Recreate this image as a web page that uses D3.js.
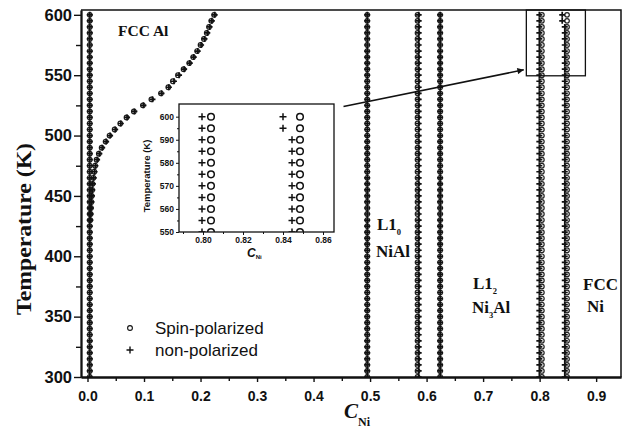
<!DOCTYPE html>
<html>
<head>
<meta charset="utf-8">
<script src="https://cdn.jsdelivr.net/npm/d3@7/dist/d3.min.js"></script>
<style>
  body { margin: 0; background: #fff; }
  svg { display: block; }
  .tick text { font-family: "Liberation Sans", Arial, sans-serif; font-weight: bold; }
</style>
</head>
<body>
<svg id="chart" width="623" height="429"></svg>
<script>
// temperatures sampled by the simulation (K)
const temps = [300, 305, 310, 315, 320, 325, 330, 335, 340, 345, 350, 355, 360, 365, 370, 375,
  380, 385, 390, 395, 400, 405, 410, 415, 420, 425, 430, 435, 440, 445, 450, 455, 460, 465,
  470, 475, 480, 485, 490, 495, 500, 505, 510, 515, 520, 525, 530, 535, 540, 545, 550, 555,
  560, 565, 570, 575, 580, 585, 590, 595, 600];

// phase boundaries that stay put with temperature (C_Ni)
const spinColumns = [0.004, 0.495, 0.584, 0.624, 0.804, 0.8485];
const nonColumns = [0.004, 0.495, 0.586, 0.624, 0.7995, 0.8445];
// the two top points of the Ni-rich non-polarized boundary move left
const nonShiftTop = [[595, 0.840], [600, 0.840]];

// FCC Al solvus branch
const alTemps = [430, 435, 440, 445, 450, 455, 460, 465, 470, 475, 480, 485, 490, 495, 500,
  505, 510, 515, 520, 525, 530, 535, 540, 545, 550, 555, 560, 565, 570, 575, 580, 585, 590, 595, 600];
const alSpinC = [0.005, 0.0055, 0.006, 0.0068, 0.0075, 0.0082, 0.009, 0.0105, 0.012, 0.0135,
  0.016, 0.020, 0.025, 0.032, 0.039, 0.048, 0.058, 0.069, 0.082, 0.098, 0.113, 0.130, 0.143,
  0.151, 0.160, 0.170, 0.180, 0.187, 0.194, 0.200, 0.206, 0.211, 0.215, 0.219, 0.224];
const alNonC = [0.005, 0.0055, 0.006, 0.007, 0.0078, 0.0085, 0.0095, 0.011, 0.0125, 0.014,
  0.017, 0.021, 0.026, 0.033, 0.040, 0.049, 0.059, 0.070, 0.083, 0.099, 0.115, 0.131, 0.144,
  0.153, 0.162, 0.171, 0.181, 0.188, 0.195, 0.201, 0.207, 0.212, 0.216, 0.220, 0.225];

const xTicks = [0, 0.1, 0.2, 0.3, 0.4, 0.5, 0.6, 0.7, 0.8, 0.9];
const xMinor = [0.05, 0.15, 0.25, 0.35, 0.45, 0.55, 0.65, 0.75, 0.85];
const yTicks = [300, 350, 400, 450, 500, 550, 600];
const yMinor = [325, 375, 425, 475, 525, 575];

const insetXTicks = [0.80, 0.82, 0.84, 0.86];
const insetXMinor = [0.79, 0.81, 0.83, 0.85];
const insetYTicks = [550, 560, 570, 580, 590, 600];
const insetYMinor = [555, 565, 575, 585, 595];

// zoom box and arrow, in data units
const zoomBox = [0.7765, 0.881, 549.5, 604];
const arrowFrom = [0.453, 524];
const arrowTo = [0.772, 554.5];

const svg = d3.select('#chart');
const ink = '#111';
const serif = '"Liberation Serif", "Times New Roman", serif';
const sans = '"Liberation Sans", Arial, sans-serif';

const x = d3.scaleLinear().domain([-0.0115, 0.944]).range([81, 621]);
const y = d3.scaleLinear().domain([300, 604]).range([377, 10]);

// build point lists
function columnPoints(cols, shifts) {
  const pts = [];
  cols.forEach((c, i) => {
    temps.forEach(t => {
      let cc = c;
      if (shifts && i === cols.length - 1) {
        const s = shifts.find(d => d[0] === t);
        if (s) cc = s[1];
      }
      pts.push({ c: cc, t: t });
    });
  });
  return pts;
}
const spinPts = columnPoints(spinColumns, null)
  .concat(alTemps.map((t, i) => ({ c: alSpinC[i], t: t })));
const nonPts = columnPoints(nonColumns, nonShiftTop)
  .concat(alTemps.map((t, i) => ({ c: alNonC[i], t: t })));

function plus(s) { return `M${-s},0H${s}M0,${-s}V${s}`; }

const defs = svg.append('defs');
defs.append('clipPath').attr('id', 'mainClip')
  .append('rect').attr('x', 81).attr('y', 10).attr('width', 540).attr('height', 367);

const main = svg.append('g').attr('clip-path', 'url(#mainClip)');
main.append('g').selectAll('circle').data(spinPts).join('circle')
  .attr('cx', d => x(d.c)).attr('cy', d => y(d.t)).attr('r', 2.3)
  .attr('fill', 'none').attr('stroke', '#222').attr('stroke-width', 1.2);
main.append('g').selectAll('path').data(nonPts).join('path')
  .attr('transform', d => `translate(${x(d.c)},${y(d.t)})`)
  .attr('d', plus(3)).attr('stroke', ink).attr('stroke-width', 1.7);

// frame
svg.append('path')
  .attr('d', `M${x.range()[0]},${y.range()[1]}H${x.range()[1]}V${y.range()[0]}`)
  .attr('fill', 'none').attr('stroke', ink).attr('stroke-width', 1.5);

// axes
function styleAxis(g) {
  g.select('.domain').attr('stroke', ink).attr('stroke-width', 1.8);
  g.selectAll('.tick line').attr('stroke', ink).attr('stroke-width', 1.4);
}
svg.append('g').attr('transform', `translate(0,${y.range()[0]})`)
  .call(d3.axisBottom(x).tickValues(xMinor).tickSize(4).tickFormat('').tickSizeOuter(0))
  .call(styleAxis);
svg.append('g').attr('transform', `translate(0,${y.range()[0]})`)
  .call(d3.axisBottom(x).tickValues(xTicks).tickSize(5).tickPadding(9).tickFormat(d3.format('.1f')).tickSizeOuter(0))
  .call(styleAxis)
  .call(g => g.selectAll('.tick text').attr('font-size', 14).attr('fill', ink));
svg.append('g').attr('transform', `translate(${x.range()[0]},0)`)
  .call(d3.axisLeft(y).tickValues(yMinor).tickSize(5).tickFormat('').tickSizeOuter(0))
  .call(styleAxis);
svg.append('g').attr('transform', `translate(${x.range()[0]},0)`)
  .call(d3.axisLeft(y).tickValues(yTicks).tickSize(7).tickPadding(2).tickSizeOuter(0))
  .call(styleAxis)
  .call(g => g.selectAll('.tick text').attr('font-size', 16.5).attr('fill', ink));

// axis titles
svg.append('text')
  .attr('transform', 'translate(31,229) rotate(-90)')
  .attr('text-anchor', 'middle')
  .attr('font-family', serif)
  .attr('font-weight', 'bold').attr('font-size', 21)
  .attr('textLength', 172).attr('lengthAdjust', 'spacingAndGlyphs')
  .attr('fill', ink).text('Temperature (K)');
const xt = svg.append('text').attr('x', 344).attr('y', 418)
  .attr('font-family', serif)
  .attr('font-weight', 'bold').attr('fill', ink);
xt.append('tspan').attr('font-style', 'italic').attr('font-size', 21).text('C');
xt.append('tspan').attr('font-size', 12).attr('dy', 8).text('Ni');

// phase labels: strings are normal text, {s: ...} are subscripts
function label(px, py, parts, size) {
  const t = svg.append('text').attr('x', px).attr('y', py)
    .attr('font-family', serif).attr('font-weight', 'bold')
    .attr('font-size', size).attr('fill', ink);
  let lowered = false;
  parts.forEach(p => {
    if (typeof p === 'object') {
      t.append('tspan').attr('font-size', size * 0.5).attr('dy', 5).text(p.s);
      lowered = true;
    } else {
      const ts = t.append('tspan').text(p);
      if (lowered) { ts.attr('dy', -5); lowered = false; }
    }
  });
}
label(118, 36, ['FCC Al'], 15.5);
label(377, 230, ['L1', { s: '0' }], 17);
label(376, 257, ['NiAl'], 17);
label(473, 289, ['L1', { s: '2' }], 17);
label(472, 313, ['Ni', { s: '3' }, 'Al'], 17);
label(583, 290, ['FCC'], 17);
label(587, 312, ['Ni'], 17);

// legend
svg.append('circle').attr('cx', 130).attr('cy', 328).attr('r', 2.4)
  .attr('fill', 'none').attr('stroke', ink).attr('stroke-width', 1.1);
svg.append('path').attr('transform', 'translate(130,350)').attr('d', plus(3.5))
  .attr('stroke', ink).attr('stroke-width', 1.4);
svg.append('text').attr('x', 155).attr('y', 334).attr('font-family', sans)
  .attr('font-size', 17).attr('fill', ink).text('Spin-polarized');
svg.append('text').attr('x', 155).attr('y', 356).attr('font-family', sans)
  .attr('font-size', 17).attr('fill', ink).text('non-polarized');

// zoom box + arrow
svg.append('rect')
  .attr('x', x(zoomBox[0])).attr('y', y(zoomBox[3]))
  .attr('width', x(zoomBox[1]) - x(zoomBox[0])).attr('height', y(zoomBox[2]) - y(zoomBox[3]))
  .attr('fill', 'none').attr('stroke', ink).attr('stroke-width', 1.3);
defs.append('marker').attr('id', 'head')
  .attr('viewBox', '0 0 10 10').attr('refX', 10).attr('refY', 5)
  .attr('markerWidth', 5).attr('markerHeight', 4).attr('orient', 'auto')
  .append('path').attr('d', 'M0,0L10,5L0,10Z').attr('fill', ink);
svg.append('line')
  .attr('x1', x(arrowFrom[0])).attr('y1', y(arrowFrom[1]))
  .attr('x2', x(arrowTo[0])).attr('y2', y(arrowTo[1]))
  .attr('stroke', ink).attr('stroke-width', 1.6).attr('marker-end', 'url(#head)');

// inset
const ix = d3.scaleLinear().domain([0.788, 0.8655]).range([179, 334]);
const iy = d3.scaleLinear().domain([550, 605.5]).range([232, 104]);
svg.append('rect').attr('x', 179).attr('y', 104).attr('width', 155).attr('height', 128)
  .attr('fill', '#fff');
defs.append('clipPath').attr('id', 'insetClip')
  .append('rect').attr('x', 179).attr('y', 104).attr('width', 155).attr('height', 128);
const inset = svg.append('g').attr('clip-path', 'url(#insetClip)');
const inRange = d => d.t >= 545 && d.c > 0.78;
inset.append('g').selectAll('path').data(nonPts.filter(inRange)).join('path')
  .attr('transform', d => `translate(${ix(d.c)},${iy(d.t)})`)
  .attr('d', plus(3.5)).attr('stroke', ink).attr('stroke-width', 1.5);
inset.append('g').selectAll('circle').data(spinPts.filter(inRange)).join('circle')
  .attr('cx', d => ix(d.c)).attr('cy', d => iy(d.t)).attr('r', 3.3)
  .attr('fill', 'none').attr('stroke', ink).attr('stroke-width', 1.5);
svg.append('rect').attr('x', 179).attr('y', 104).attr('width', 155).attr('height', 128)
  .attr('fill', 'none').attr('stroke', ink).attr('stroke-width', 1.3);

function styleInset(g) {
  g.select('.domain').remove();
  g.selectAll('.tick line').attr('stroke', ink).attr('stroke-width', 1);
}
svg.append('g').attr('transform', 'translate(0,232)')
  .call(d3.axisBottom(ix).tickValues(insetXMinor).tickSize(2).tickFormat(''))
  .call(styleInset);
svg.append('g').attr('transform', 'translate(0,232)')
  .call(d3.axisBottom(ix).tickValues(insetXTicks).tickSize(3).tickPadding(2).tickFormat(d3.format('.2f')))
  .call(styleInset)
  .call(g => g.selectAll('.tick text').attr('font-size', 8.5).attr('fill', ink));
svg.append('g').attr('transform', 'translate(179,0)')
  .call(d3.axisLeft(iy).tickValues(insetYMinor).tickSize(2).tickFormat(''))
  .call(styleInset);
svg.append('g').attr('transform', 'translate(179,0)')
  .call(d3.axisLeft(iy).tickValues(insetYTicks).tickSize(3).tickPadding(2))
  .call(styleInset)
  .call(g => g.selectAll('.tick text').attr('font-size', 8.5).attr('fill', ink));

svg.append('text')
  .attr('transform', 'translate(150,176) rotate(-90)')
  .attr('text-anchor', 'middle').attr('font-family', sans)
  .attr('font-weight', 'bold').attr('font-size', 9.5).attr('fill', ink)
  .text('Temperature (K)');
const it = svg.append('text').attr('x', 247).attr('y', 257)
  .attr('font-family', sans).attr('font-weight', 'bold').attr('fill', ink);
it.append('tspan').attr('font-style', 'italic').attr('font-size', 12).text('C');
it.append('tspan').attr('font-size', 6).attr('dy', 2).text('Ni');
</script>
</body>
</html>
